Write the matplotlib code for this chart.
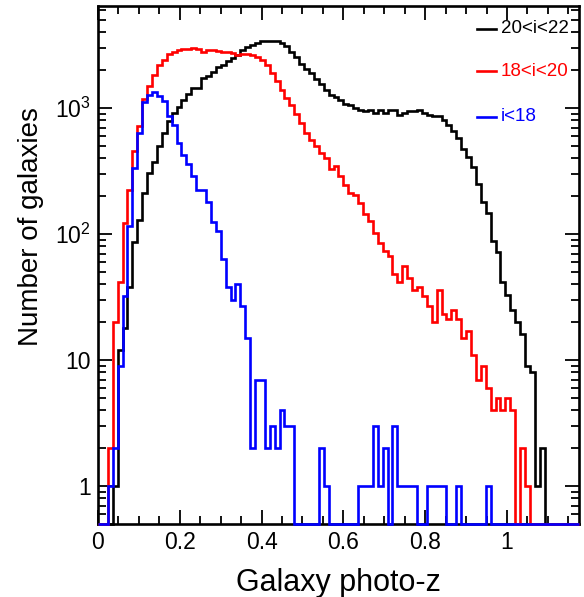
import numpy as np
import matplotlib
matplotlib.use('Agg')
import matplotlib.pyplot as plt
from matplotlib.ticker import FixedLocator, FixedFormatter, MultipleLocator, LogLocator, NullFormatter

# histogram binning (photo-z)
bin_width = 0.012
n_bins = 98

# counts per bin
counts_20_22 = [0, 0, 0, 1, 12, 18, 38, 86, 129, 212,
                306, 372, 504, 635, 785, 914, 1020, 1166, 1294, 1443,
                1443, 1731, 1782, 1919, 2138, 2207, 2346, 2495, 2650, 2900,
                3080, 3176, 3313, 3436, 3436, 3436, 3400, 3275, 3090, 2775,
                2530, 2240, 2060, 1885, 1690, 1540, 1380, 1280, 1230, 1150,
                1080, 1064, 1000, 959, 941, 971, 914, 971, 914, 971,
                960, 887, 914, 941, 950, 959, 914, 887, 871, 860,
                800, 730, 660, 580, 475, 410, 340, 250, 180, 148,
                88, 72, 42, 33, 25, 20, 16, 9, 8, 1,
                2]
counts_18_20 = [0, 0, 2, 20, 42, 123, 223, 454, 726, 1180,
                1503, 1837, 2178, 2415, 2681, 2812, 2900, 2953, 2953, 3026,
                2953, 2812, 2900, 2900, 2860, 2812, 2780, 2740, 2650, 2680,
                2700, 2650, 2550, 2400, 2200, 1900, 1650, 1400, 1200, 1050,
                900, 760, 640, 560, 500, 440, 400, 330, 350, 290,
                245, 212, 203, 175, 144, 127, 102, 85, 73, 67,
                48, 42, 56, 45, 36, 38, 32, 27, 20, 36,
                23, 21, 25, 21, 15, 17, 11, 7, 9, 6,
                4, 5, 4, 5, 4, 0, 2, 1]
counts_lt18 = [0, 0, 1, 2, 9, 32, 116, 336, 635, 1110,
               1277, 1332, 1238, 1130, 860, 739, 530, 427, 363, 288,
               223, 223, 179, 124, 106, 63, 38, 30, 40, 27,
               15, 2, 7, 7, 2, 3, 2, 4, 3, 3,
               0, 0, 0, 0, 0, 2, 1, 0, 0, 0,
               0, 0, 0, 1, 1, 1, 3, 1, 2, 0,
               3, 1, 1, 1, 1, 0, 0, 1, 1, 1,
               1, 0, 0, 1, 0, 0, 0, 0, 0, 1]

series = [(counts_20_22, 'black', '20<i<22'),
          (counts_18_20, 'red', '18<i<20'),
          (counts_lt18, 'blue', 'i<18')]

y_min, y_max = 0.5, 6500
edges = np.arange(n_bins + 1) * bin_width

plt.rcParams['font.family'] = ['Liberation Sans', 'DejaVu Sans']

fig = plt.figure(figsize=(5.84, 5.97), dpi=100)
ax = fig.add_axes([0.1678, 0.1223, 0.8236, 0.8682])

for counts, col, lab in series:
    c = np.zeros(n_bins)
    c[:len(counts)] = counts
    # empty bins are drawn on the bottom of the frame, like ROOT does
    c[c <= 0] = y_min
    ax.stairs(c, edges, baseline=y_min, color=col, lw=1.9, clip_on=False, zorder=3)

ax.set_yscale('log')
ax.set_xlim(0, n_bins * bin_width)
ax.set_ylim(y_min, y_max)

ax.xaxis.set_major_locator(FixedLocator([0, 0.2, 0.4, 0.6, 0.8, 1.0]))
ax.xaxis.set_major_formatter(FixedFormatter(['0', '0.2', '0.4', '0.6', '0.8', '1']))
ax.xaxis.set_minor_locator(MultipleLocator(0.05))
ax.yaxis.set_major_locator(FixedLocator([1, 10, 100, 1000]))
ax.yaxis.set_major_formatter(FixedFormatter(['1', '10', r'$\mathregular{10^2}$', r'$\mathregular{10^3}$']))
ax.yaxis.set_minor_locator(LogLocator(base=10, subs=np.arange(2, 10)))
ax.yaxis.set_minor_formatter(NullFormatter())

ax.tick_params(which='both', direction='in', top=True, right=True, width=1.3, labelsize=16.5)
ax.tick_params(which='major', length=10, pad=5)
ax.tick_params(which='minor', length=5.5)
for s in ax.spines.values():
    s.set_linewidth(1.9)

ax.set_xlabel('Galaxy photo-z', fontsize=22)
ax.set_ylabel('Number of galaxies', fontsize=20)
ax.xaxis.set_label_coords(0.5, -0.085)
ax.yaxis.set_label_coords(-0.112, 0.573)

# hand-made legend in the top right corner
leg_y = [0.955, 0.873, 0.786]
for (counts, col, lab), yy in zip(series, leg_y):
    ax.plot([0.788, 0.828], [yy, yy], color=col, lw=1.9, transform=ax.transAxes)
    ax.text(0.838, yy, lab, color=col, fontsize=13.5, va='center', ha='left', transform=ax.transAxes)

plt.savefig('out.png', dpi=100)
plt.close(fig)
